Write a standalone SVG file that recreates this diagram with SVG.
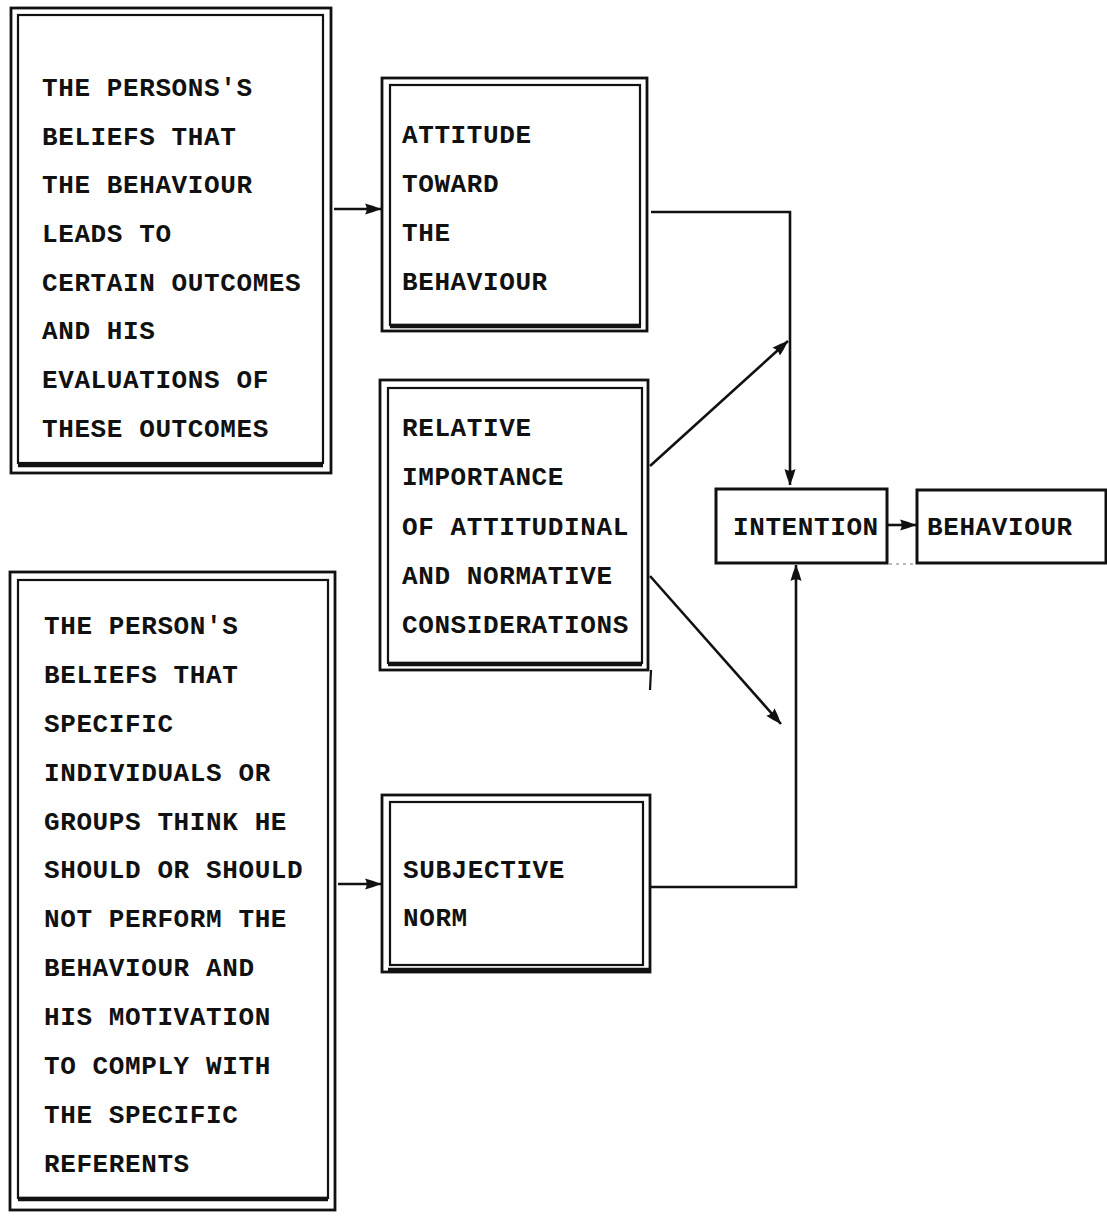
<svg xmlns="http://www.w3.org/2000/svg" width="1107" height="1216" viewBox="0 0 1107 1216">
  <style>
    .bg { fill: #ffffff; }
    .outer { fill: none; stroke: #111; stroke-width: 2.8; }
    .inner { fill: none; stroke: #111; stroke-width: 2.2; }
    .heavy { stroke: #111; stroke-width: 4.5; fill: none; }
    .single { fill: none; stroke: #111; stroke-width: 3; }
    .label { font-family: "Liberation Mono", "Courier New", monospace; font-weight: bold; font-size: 26px; letter-spacing: 0.6px; fill: #111; }
    .wire { fill: none; stroke: #111; stroke-width: 2.6; }
    .faint { fill: none; stroke: #777; stroke-width: 1.2; stroke-dasharray: 3 4; }
  </style>
  <defs>
    <marker id="head" markerUnits="userSpaceOnUse" markerWidth="18" markerHeight="14" refX="16" refY="7" orient="auto">
      <path d="M0,1.5 Q8,3.5 16,7 Q8,10.5 0,12.5 Q3.5,7 0,1.5 Z" fill="#111"/>
    </marker>
  </defs>

  <rect class="bg" x="0" y="0" width="1107" height="1216"/>

  <!-- beliefs about outcomes -->
  <g id="beliefs-outcomes">
    <rect class="outer" x="11" y="8" width="320" height="465"/>
    <rect class="inner" x="18" y="15" width="305" height="448"/>
    <line class="heavy" x1="18" y1="465" x2="323" y2="465"/>
    <text class="label">
      <tspan x="42" y="96">THE PERSONS'S</tspan>
      <tspan x="42" y="145">BELIEFS THAT</tspan>
      <tspan x="42" y="193">THE BEHAVIOUR</tspan>
      <tspan x="42" y="242">LEADS TO</tspan>
      <tspan x="42" y="291">CERTAIN OUTCOMES</tspan>
      <tspan x="42" y="339">AND HIS</tspan>
      <tspan x="42" y="388">EVALUATIONS OF</tspan>
      <tspan x="42" y="437">THESE OUTCOMES</tspan>
    </text>
  </g>

  <!-- attitude toward the behaviour -->
  <g id="attitude">
    <rect class="outer" x="382" y="78" width="265" height="253"/>
    <rect class="inner" x="390" y="85" width="250" height="240"/>
    <line class="heavy" x1="390" y1="326" x2="641" y2="326"/>
    <text class="label">
      <tspan x="402" y="143">ATTITUDE</tspan>
      <tspan x="402" y="192">TOWARD</tspan>
      <tspan x="402" y="241">THE</tspan>
      <tspan x="402" y="290">BEHAVIOUR</tspan>
    </text>
  </g>

  <!-- relative importance -->
  <g id="relative-importance">
    <rect class="outer" x="380" y="380" width="268" height="290"/>
    <rect class="inner" x="388" y="388" width="254" height="275"/>
    <line class="heavy" x1="388" y1="664" x2="642" y2="664"/>
    <line class="inner" x1="651" y1="670" x2="650" y2="690"/>
    <text class="label">
      <tspan x="402" y="436">RELATIVE</tspan>
      <tspan x="402" y="485">IMPORTANCE</tspan>
      <tspan x="402" y="535">OF ATTITUDINAL</tspan>
      <tspan x="402" y="584">AND NORMATIVE</tspan>
      <tspan x="402" y="633">CONSIDERATIONS</tspan>
    </text>
  </g>

  <!-- normative beliefs -->
  <g id="normative-beliefs">
    <rect class="outer" x="10" y="572" width="325" height="638"/>
    <rect class="inner" x="18" y="580" width="310" height="618"/>
    <line class="heavy" x1="18" y1="1199" x2="328" y2="1199"/>
    <text class="label">
      <tspan x="44" y="634">THE PERSON'S</tspan>
      <tspan x="44" y="683">BELIEFS THAT</tspan>
      <tspan x="44" y="732">SPECIFIC</tspan>
      <tspan x="44" y="781">INDIVIDUALS OR</tspan>
      <tspan x="44" y="830">GROUPS THINK HE</tspan>
      <tspan x="44" y="878">SHOULD OR SHOULD</tspan>
      <tspan x="44" y="927">NOT PERFORM THE</tspan>
      <tspan x="44" y="976">BEHAVIOUR AND</tspan>
      <tspan x="44" y="1025">HIS MOTIVATION</tspan>
      <tspan x="44" y="1074">TO COMPLY WITH</tspan>
      <tspan x="44" y="1123">THE SPECIFIC</tspan>
      <tspan x="44" y="1172">REFERENTS</tspan>
    </text>
  </g>

  <!-- subjective norm -->
  <g id="subjective-norm">
    <rect class="outer" x="382" y="795" width="268" height="177"/>
    <rect class="inner" x="390" y="802" width="253" height="163"/>
    <line class="heavy" x1="388" y1="970" x2="650" y2="970"/>
    <text class="label">
      <tspan x="403" y="878">SUBJECTIVE</tspan>
      <tspan x="403" y="926">NORM</tspan>
    </text>
  </g>

  <!-- intention -->
  <g id="intention">
    <rect class="single" x="716" y="489" width="171" height="74"/>
    <text class="label" x="733" y="535">INTENTION</text>
  </g>

  <!-- behaviour -->
  <g id="behaviour">
    <rect class="single" x="917" y="490" width="189" height="73"/>
    <text class="label" x="927" y="535">BEHAVIOUR</text>
  </g>

  <!-- connectors -->
  <g id="connectors">
    <line class="wire" x1="334" y1="209" x2="381" y2="209" marker-end="url(#head)"/>
    <path class="wire" d="M651,212 H790 V485" marker-end="url(#head)"/>
    <line class="wire" x1="650" y1="466" x2="788" y2="341" marker-end="url(#head)"/>
    <line class="wire" x1="650" y1="576" x2="781" y2="724" marker-end="url(#head)"/>
    <path class="wire" d="M651,887 H796 V565" marker-end="url(#head)"/>
    <line class="wire" x1="338" y1="884" x2="381" y2="884" marker-end="url(#head)"/>
    <line class="wire" x1="888" y1="525" x2="916" y2="525" marker-end="url(#head)"/>
    <line class="faint" x1="889" y1="564" x2="916" y2="564"/>
  </g>
</svg>
